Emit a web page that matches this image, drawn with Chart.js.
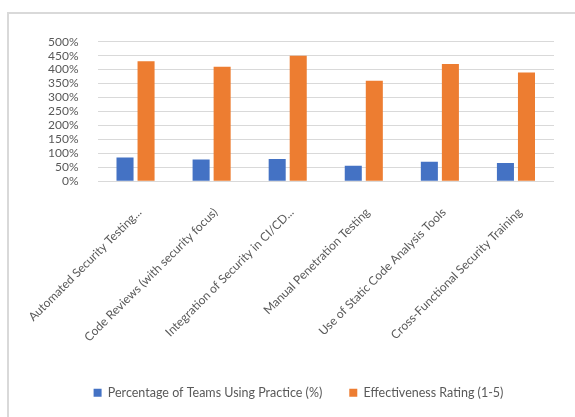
<!DOCTYPE html>
<html>
<head>
<meta charset="utf-8">
<script src="https://cdn.jsdelivr.net/npm/chart.js@4/dist/chart.umd.min.js"></script>
<style>
  html, body { margin: 0; padding: 0; background: #fff; overflow: hidden; }
  #wrap { position: relative; width: 575px; height: 417px; }
  #frame { position: absolute; left: 7px; top: 12px; width: 600px; height: 440px; border: 2px solid #d9d9d9; box-sizing: border-box; }
  #chart { position: absolute; left: 0; top: 0; }
</style>
</head>
<body>
<div id="wrap">
  <div id="frame"></div>
  <canvas id="chart" width="575" height="417"></canvas>
</div>
<script>
// practices on the x axis
const practices = [
    'Automated Security Testing...',
    'Code Reviews (with security focus)',
    'Integration of Security in CI/CD...',
    'Manual Penetration Testing',
    'Use of Static Code Analysis Tools',
    'Cross-Functional Security Training'
];
const teamsUsing = [0.85, 0.78, 0.80, 0.55, 0.70, 0.65];   // share of teams
const effectiveness = [4.3, 4.1, 4.5, 3.6, 4.2, 3.9];     // rating 1-5, plotted on the % axis
const seriesNames = ['Percentage of Teams Using Practice (%)', 'Effectiveness Rating (1-5)'];

const textColor = '#595959';
const gridColor = '#d9d9d9';
const fontFamily = 'Lato, "Open Sans", sans-serif';

const ctx = document.querySelector('#chart').getContext('2d');

new Chart(ctx, {
    type: 'bar',
    data: {
        labels: practices,
        datasets: [
            {
                label: seriesNames[0],
                data: teamsUsing,
                backgroundColor: '#4472C4'
            },
            {
                label: seriesNames[1],
                data: effectiveness,
                backgroundColor: '#ED7D31'
            }
        ]
    },
    options: {
        responsive: false,
        animation: false,
        layout: { padding: { left: 43, right: 21, top: 41.7, bottom: 8 } },
        datasets: {
            bar: { categoryPercentage: 0.553, barPercentage: 0.81 }
        },
        plugins: {
            legend: {
                position: 'bottom',
                labels: {
                    boxWidth: 8,
                    boxHeight: 8,
                    padding: 27,
                    color: textColor,
                    font: { family: fontFamily, size: 12.5 }
                }
            },
            tooltip: { enabled: false }
        },
        scales: {
            x: {
                grid: { display: false, drawTicks: false },
                border: { display: false },
                ticks: {
                    autoSkip: false,
                    maxRotation: 45,
                    minRotation: 45,
                    padding: 24,
                    labelOffset: 4,
                    color: textColor,
                    font: { family: fontFamily, size: 12 }
                },
                afterFit: scale => {
                    scale.height = 178.3;
                    // long slanted labels should not push the plot area inwards
                    scale.paddingLeft = 0;
                    scale.paddingRight = 0;
                }
            },
            y: {
                min: 0,
                max: 5,
                grid: { color: gridColor, lineWidth: 1, drawTicks: false },
                border: { display: false },
                ticks: {
                    autoSkip: false,
                    stepSize: 0.5,
                    padding: 19,
                    color: textColor,
                    font: { family: fontFamily, size: 12 },
                    callback: v => Math.round(v * 100) + '%'
                },
                afterFit: scale => { scale.width = 54.5; }
            }
        }
    }
});
</script>
</body>
</html>
